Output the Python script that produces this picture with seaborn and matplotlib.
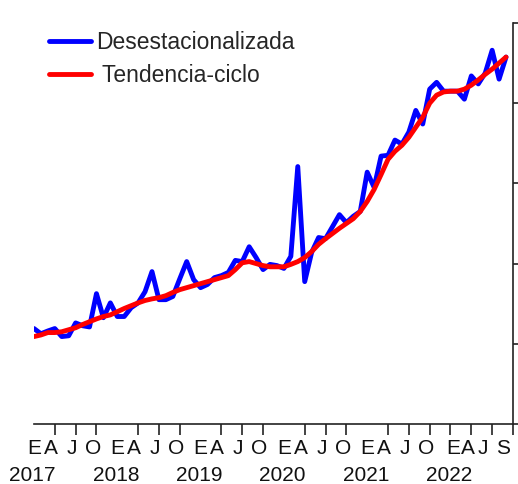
import numpy as np
import pandas as pd
import matplotlib
matplotlib.use("Agg")
import matplotlib.pyplot as plt
import matplotlib.transforms as mtransforms
import seaborn as sns

# Serie mensual, enero 2017 - septiembre 2022
desestacionalizada = [
    23.8, 22.5, 23.2, 23.8, 21.8, 22.0, 25.2, 24.5, 24.2, 32.5, 26.5, 30.2,
    26.8, 26.8, 29.0, 30.2, 33.0, 38.0, 31.0, 31.0, 31.8, 36.2, 40.5, 36.0,
    34.0, 34.8, 36.5, 37.0, 37.8, 40.8, 40.5, 44.2, 41.5, 38.5, 39.8, 39.5,
    38.8, 41.8, 64.2, 35.5, 42.8, 46.5, 46.2, 49.2, 52.2, 50.2, 51.8, 53.0,
    62.8, 59.0, 66.8, 67.0, 70.8, 69.8, 72.8, 78.2, 74.8, 83.5, 85.2, 83.0,
    83.0, 83.0, 81.0, 86.8, 84.8, 87.5, 93.2, 86.0, 91.5,
]
tendencia_ciclo = [
    21.8, 22.2, 22.8, 22.8, 23.0, 23.5, 24.0, 24.8, 25.5, 26.2, 26.8, 27.2,
    28.0, 28.8, 29.5, 30.2, 30.8, 31.2, 31.5, 32.0, 32.8, 33.5, 34.0, 34.5,
    35.0, 35.5, 36.0, 36.5, 37.0, 38.5, 40.2, 40.5, 40.0, 39.5, 39.2, 39.2,
    39.2, 39.8, 40.5, 41.5, 43.0, 44.8, 46.2, 47.5, 48.8, 50.0, 51.2, 53.0,
    55.5, 58.5, 62.2, 66.0, 68.0, 69.5, 71.5, 74.0, 76.5, 80.0, 82.0, 82.8,
    83.0, 83.0, 83.5, 84.5, 85.8, 87.2, 88.5, 90.0, 91.5,
]
years = ["2017", "2018", "2019", "2020", "2021", "2022"]
month_letters = ["E", "A", "J", "O"]
last_year_letters = ["E", "A", "J", "S"]

mes = np.arange(len(desestacionalizada))
df = pd.DataFrame({"mes": mes, "Desestacionalizada": desestacionalizada,
                   "Tendencia-ciclo": tendencia_ciclo})

sns.set_style("white")
plt.rcParams["font.family"] = ["Liberation Sans", "DejaVu Sans"]

fig = plt.figure(figsize=(5.18, 4.84), dpi=100)
ax = fig.add_axes([0.0656, 0.124, 0.9247, 0.8285])

sns.lineplot(data=df, x="mes", y="Desestacionalizada", color="#0000ff",
             lw=3.5, label="Desestacionalizada", ax=ax)
sns.lineplot(data=df, x="mes", y="Tendencia-ciclo", color="#ff0000",
             lw=3.5, label=" Tendencia-ciclo", ax=ax)

ax.set_xlim(0, 69)
ax.set_ylim(0, 100)
ax.set_xlabel("")
ax.set_ylabel("")

# minor ticks every quarter, letter labels on major ticks (no mark)
ax.set_xticks(np.arange(0, 70, 3), minor=True)
pos, labs = [], []
shift = [0.0, -0.6, -0.6, -0.5]
for k, y in enumerate(years):
    if y == "2022":
        letters = last_year_letters
        offs = [0.4, 2.5, 4.6, 7.5]
    else:
        letters = month_letters
        offs = [3 * j + shift[j] for j in range(4)]
    for j, l in enumerate(letters):
        pos.append(12 * k + offs[j])
        labs.append(l)
ax.set_xticks(pos)
ax.set_xticklabels(labs, fontsize=15, color="#111111")
ax.tick_params(axis="x", which="major", length=0, pad=11)
ax.tick_params(axis="x", which="minor", length=8, width=1.2, direction="out",
               color="#222222", bottom=True)

# year labels under the January ticks
trans = mtransforms.blended_transform_factory(ax.transData, ax.transAxes)
for k, y in enumerate(years):
    ax.text(12 * k - 0.2, -0.105, y, transform=trans, ha="center", va="top",
            fontsize=15, color="#111111")

ax.yaxis.tick_right()
ax.set_yticks(np.arange(0, 101, 20))
ax.set_yticklabels([])
ax.tick_params(axis="y", length=4, width=1.2, direction="out", color="#222222", right=True)

for s in ["left", "top"]:
    ax.spines[s].set_visible(False)
for s in ["right", "bottom"]:
    ax.spines[s].set_color("#222222")
    ax.spines[s].set_linewidth(1.2)

ax.legend(loc="upper left", bbox_to_anchor=(0.094, 0.936),
          bbox_transform=fig.transFigure, frameon=False, fontsize=16.5,
          handlelength=1.85, handletextpad=0.22, labelspacing=0.45,
          borderaxespad=0, borderpad=0)

fig.savefig("out.png", dpi=100)
